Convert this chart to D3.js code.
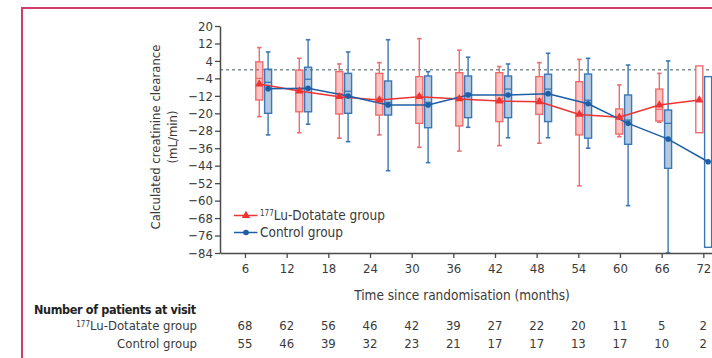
<!DOCTYPE html>
<html><head><meta charset="utf-8">
<script src="https://cdn.jsdelivr.net/npm/d3@7"></script>
<style>body{margin:0;background:#fff}svg{display:block}</style>
</head><body><svg id="c" width="712" height="358"></svg>
<script>
const months=[6,12,18,24,30,36,42,48,54,60,66,72];
const yTicks=[20,12,4,-4,-12,-20,-28,-36,-44,-52,-60,-68,-76,-84];
// 177Lu-Dotatate group
const luHigh  =[10.1, 5.2, 2.6, 3.2, 14.2, 8.9, 1.4, 3.2, 4.7, -7.0, -1.7, null];
const luQ3    =[3.6, -0.2, -0.9, -1.7, -3.2, -1.4, -1.4, -3.2, -5.5, -18, -8.9, 1.7];
const luMedian=[-4.0, -9, -11, -13, -11.6, -12.5, -13.5, -13.5, -20, -21.5, -18.2, null];
const luQ1    =[-13.9, -19.3, -20.3, -20.8, -24.6, -25.8, -23.8, -20.5, -29.9, -29.5, -23.5, -28.9];
const luLow   =[-21.5, -28.9, -31.4, -29.9, -35.6, -37.3, -34.8, -33.7, -53.2, -30.7, -24.1, null];
const luMean  =[-6.6, -9.8, -12.4, -13.9, -12.4, -13.4, -14.4, -14.7, -20.5, -21.8, -16.2, -13.9];
// Control group
const ctlHigh  =[8.1, 13.7, 8.1, 13.7, -0.9, 5.7, 2.6, 7.5, 5.2, 2.1, 4.0, null];
const ctlQ3    =[0.2, 1.1, -1.7, -5.2, -2.9, -2.9, -2.9, -2.1, -2.0, -11.6, -18.5, -3.2];
const ctlMedian=[-5.8, -4.4, -9.9, -15, -15, -10.8, -8.9, -8.9, -14, -23.1, -24.6, null];
const ctlQ1    =[-20, -19.3, -20, -20.8, -26.6, -22, -22, -23.8, -31.4, -34.2, -45.2, -81.4];
const ctlLow   =[-29.9, -25, -33, -46.3, -42.6, -26.4, -31.2, -31.2, -36, -62.3, -84, null];
const ctlMean  =[-8.7, -8.5, -12.1, -16.2, -16.2, -11.6, -11.6, -11, -15.6, -24.6, -31.8, -42.2];
// Number of patients at visit
const luCounts =[68,62,56,46,42,39,27,22,20,11,5,2];
const ctlCounts=[55,46,39,32,23,21,17,17,13,17,10,2];

const FONT='"Liberation Sans Narrow","DejaVu Sans Condensed",sans-serif';
const TXT='#3a3a3a';
const RED='#ee3333', RED_BOX='#f26b6b';
const BLUE='#1d5ea6', BLUE_BOX='#3b77b5';

const svg=d3.select('#c').style('font-family',FONT);
svg.append('rect').attr('width',712).attr('height',358).attr('fill','#fff');

// frame
svg.append('path').attr('d','M22,358V8H712').attr('fill','none').attr('stroke','#d23c69').attr('stroke-width',2);

const y=d3.scaleLinear().domain([-84,20]).range([253,26]);
const xAxisScale=d3.scaleLinear().domain([2.4,73.25]).range([220,712]);
const xLu=d3.scaleLinear().domain([6,72]).range([259.3,699.3]);
const xCtl=d3.scaleLinear().domain([6,72]).range([268.1,708.1]);

// zero reference line
svg.append('line').attr('x1',220).attr('x2',712).attr('y1',y(0)).attr('y2',y(0))
  .attr('stroke','#7f8f8f').attr('stroke-width',1.5).attr('stroke-dasharray','3,3');

function drawBoxes(xs,hi,q3,med,q1,lo,stroke,fill){
  const g=svg.append('g');
  const bw=7, cap=4.5;
  months.forEach((m,i)=>{
    const cx=xs(m);
    const open=(hi[i]==null);
    if(hi[i]!=null){
      g.append('line').attr('x1',cx).attr('x2',cx).attr('y1',y(hi[i])).attr('y2',y(q3[i])).attr('stroke',stroke).attr('stroke-width',1.4);
      g.append('line').attr('x1',cx-cap/2).attr('x2',cx+cap/2).attr('y1',y(hi[i])).attr('y2',y(hi[i])).attr('stroke',stroke).attr('stroke-width',1.6);
    }
    if(lo[i]!=null){
      g.append('line').attr('x1',cx).attr('x2',cx).attr('y1',y(q1[i])).attr('y2',y(lo[i])).attr('stroke',stroke).attr('stroke-width',1.4);
      g.append('line').attr('x1',cx-cap/2).attr('x2',cx+cap/2).attr('y1',y(lo[i])).attr('y2',y(lo[i])).attr('stroke',stroke).attr('stroke-width',1.6);
    }
    g.append('rect').attr('x',cx-bw/2).attr('width',bw)
      .attr('y',y(q3[i])).attr('height',y(q1[i])-y(q3[i]))
      .attr('fill',open?'#fff':fill).attr('stroke',stroke).attr('stroke-width',1.4);
    if(med[i]!=null){
      g.append('line').attr('x1',cx-bw/2).attr('x2',cx+bw/2).attr('y1',y(med[i])).attr('y2',y(med[i])).attr('stroke',stroke).attr('stroke-width',1.3);
    }
  });
}
drawBoxes(xLu,luHigh,luQ3,luMedian,luQ1,luLow,RED_BOX,'rgba(240,90,90,0.35)');
drawBoxes(xCtl,ctlHigh,ctlQ3,ctlMedian,ctlQ1,ctlLow,BLUE_BOX,'rgba(40,100,170,0.35)');

// mean lines
const luLine=d3.line().x((d,i)=>xLu(months[i])).y(d=>y(d));
const ctlLine=d3.line().x((d,i)=>xCtl(months[i])).y(d=>y(d));
svg.append('path').attr('d',luLine(luMean)).attr('fill','none').attr('stroke',RED).attr('stroke-width',1.5);
svg.append('path').attr('d',ctlLine(ctlMean)).attr('fill','none').attr('stroke',BLUE).attr('stroke-width',1.5);
const tri=d3.symbol().type(d3.symbolTriangle).size(30);
svg.append('g').selectAll('path').data(luMean).join('path')
  .attr('d',tri).attr('transform',(d,i)=>`translate(${xLu(months[i])},${y(d)})`).attr('fill',RED);
svg.append('g').selectAll('circle').data(ctlMean).join('circle')
  .attr('cx',(d,i)=>xCtl(months[i])).attr('cy',d=>y(d)).attr('r',2.8).attr('fill',BLUE);

// axes
const yAxis=svg.append('g').attr('transform','translate(220,0)')
  .call(d3.axisLeft(y).tickValues(yTicks).tickSize(5).tickSizeOuter(0).tickPadding(2).tickFormat(d=>d<0?'\u2212'+Math.abs(d):d));
const xAxis=svg.append('g').attr('transform','translate(0,253)')
  .call(d3.axisBottom(xAxisScale).tickValues(months).tickSize(5).tickSizeOuter(0).tickPadding(6));
[yAxis,xAxis].forEach(a=>{
  a.select('.domain').attr('stroke','#4a4a4a').attr('stroke-width',1.5);
  a.selectAll('.tick line').attr('stroke','#4a4a4a').attr('stroke-width',1.3);
  a.selectAll('.tick text').attr('fill',TXT).style('font-size','13px').style('font-family',FONT);
});

// axis titles
svg.append('text').attr('transform','translate(155,137) rotate(-90)').attr('text-anchor','middle')
  .attr('dy','0.35em').attr('fill',TXT).style('font-size','13px').text('Calculated creatinine clearance');
svg.append('text').attr('transform','translate(172,137) rotate(-90)').attr('text-anchor','middle')
  .attr('dy','0.35em').attr('fill',TXT).style('font-size','13px').text('(mL/min)');
svg.append('text').attr('x',462).attr('y',300).attr('text-anchor','middle').attr('fill',TXT)
  .style('font-size','13.5px').text('Time since randomisation (months)');

// legend
const leg=[{label:'Lu-Dotatate group',sup:'177',color:RED,sym:'tri',y:215.5},{label:'Control group',color:BLUE,sym:'circ',y:232.5}];
leg.forEach(l=>{
  svg.append('line').attr('x1',234).attr('x2',257.5).attr('y1',l.y).attr('y2',l.y).attr('stroke',l.color).attr('stroke-width',1.5);
  if(l.sym==='tri') svg.append('path').attr('d',tri).attr('transform',`translate(246,${l.y})`).attr('fill',l.color);
  else svg.append('circle').attr('cx',246).attr('cy',l.y).attr('r',2.8).attr('fill',l.color);
  const t=svg.append('text').attr('x',260).attr('y',l.y+4.5).attr('fill',TXT).style('font-size','13.5px');
  if(l.sup) t.append('tspan').style('font-size','8px').attr('baseline-shift','45%').text(l.sup);
  t.append('tspan').text(l.label);
});

// table
svg.append('text').attr('x',34).attr('y',314).attr('fill','#222').style('font-size','12.5px').style('letter-spacing','-0.35px').style('font-weight','bold').text('Number of patients at visit');
const r1=svg.append('text').attr('x',197).attr('y',330).attr('text-anchor','end').attr('fill',TXT).style('font-size','13px');
r1.append('tspan').style('font-size','8px').attr('baseline-shift','40%').text('177');
r1.append('tspan').text('Lu-Dotatate group');
svg.append('text').attr('x',197).attr('y',348).attr('text-anchor','end').attr('fill',TXT).style('font-size','13px').text('Control group');
svg.append('g').selectAll('text').data(luCounts).join('text')
  .attr('x',(d,i)=>xAxisScale(months[i])).attr('y',330).attr('text-anchor','middle').attr('fill',TXT).style('font-size','13px').text(d=>d);
svg.append('g').selectAll('text').data(ctlCounts).join('text')
  .attr('x',(d,i)=>xAxisScale(months[i])).attr('y',348).attr('text-anchor','middle').attr('fill',TXT).style('font-size','13px').text(d=>d);
</script></body></html>
